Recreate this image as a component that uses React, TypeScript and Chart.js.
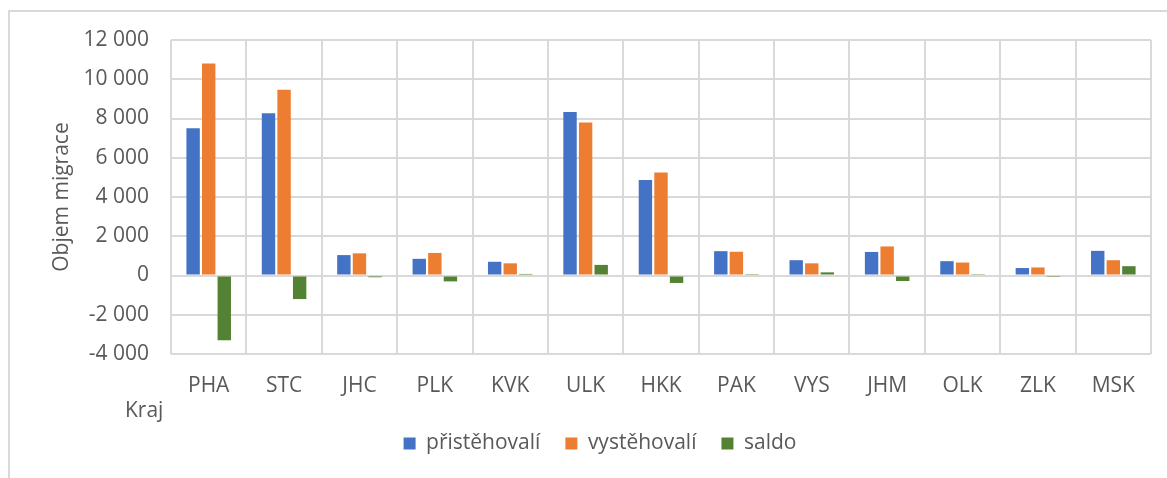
import React, { useEffect, useRef } from "react";
import { Chart, registerables } from "chart.js";

Chart.register(...registerables);

const categories = ["PHA", "STC", "JHC", "PLK", "KVK", "ULK", "HKK", "PAK", "VYS", "JHM", "OLK", "ZLK", "MSK"];
const pristehovali = [7500, 8270, 1040, 850, 700, 8330, 4870, 1240, 780, 1200, 730, 380, 1255];
const vystehovali = [10800, 9470, 1130, 1150, 620, 7790, 5250, 1210, 620, 1480, 660, 410, 780];
const saldo = [-3300, -1200, -90, -300, 80, 540, -380, 30, 160, -280, 70, -30, 475];
const seriesNames = ["přistěhovalí", "vystěhovalí", "saldo"];
const yTitle = "Objem migrace";
const xTitle = "Kraj";

const FONT = "'Open Sans', sans-serif";
const FS = 21;
const TEXT = "#595959";
const GRID = "#d9d9d9";

function fmt(v: number): string {
  const s = Math.abs(v).toString().replace(/\B(?=(\d{3})+(?!\d))/g, " ");
  return (v < 0 ? "-" : "") + s;
}

const krajPlugin = {
  id: "krajTitle",
  afterDraw(chart: any) {
    const { ctx, chartArea } = chart;
    ctx.save();
    ctx.font = `${FS}px ${FONT}`;
    ctx.fillStyle = TEXT;
    ctx.textAlign = "left";
    ctx.textBaseline = "middle";
    ctx.fillText(xTitle, chartArea.left - 46, chartArea.bottom + 57);
    ctx.restore();
  },
};

export default function App() {
  const ref = useRef<HTMLCanvasElement | null>(null);
  useEffect(() => {
    if (!ref.current) return;
    const chart = new Chart(ref.current, {
      type: "bar",
      data: {
        labels: categories,
        datasets: [
          { label: seriesNames[0], data: pristehovali, backgroundColor: "#4472C4" },
          { label: seriesNames[1], data: vystehovali, backgroundColor: "#ED7D31" },
          { label: seriesNames[2], data: saldo, backgroundColor: "#548235" },
        ],
      },
      options: {
        animation: false,
        responsive: false,
        maintainAspectRatio: false,
        layout: { padding: { top: 40, right: 16, left: 49, bottom: 14 } },
        datasets: { bar: { categoryPercentage: 0.62, barPercentage: 0.86 } },
        scales: {
          x: {
            offset: true,
            grid: { offset: true, color: GRID, lineWidth: 2, drawTicks: false },
            border: { display: false },
            ticks: { color: TEXT, font: { family: FONT, size: FS }, padding: 19, maxRotation: 0 },
            afterFit: (s: any) => { s.height = 54; },
          },
          y: {
            min: -4000,
            max: 12000,
            grid: { color: GRID, lineWidth: 2, drawTicks: false },
            border: { display: false },
            ticks: {
              stepSize: 2000,
              color: TEXT,
              font: { family: FONT, size: FS },
              padding: 22,
              callback: (v: any) => fmt(Number(v)),
            },
            title: { display: true, text: yTitle, color: TEXT, font: { family: FONT, size: FS }, padding: { top: 0, bottom: 0 } },
            afterFit: (s: any) => { s.width = 122; },
          },
        },
        plugins: {
          legend: {
            position: "bottom",
            labels: {
              color: TEXT,
              font: { family: FONT, size: FS },
              boxWidth: 12,
              boxHeight: 12,
              padding: 25,
            },
          },
          tooltip: { enabled: false },
        },
      },
      plugins: [krajPlugin],
    } as any);
    return () => chart.destroy();
  }, []);
  return (
    <div style={{ position: "fixed", left: 0, top: 0, width: 1167, height: 478, background: "#fff" }}>
      <div style={{ position: "absolute", left: 8, top: 10, width: 1200, height: 500, borderLeft: "2px solid #d9d9d9", borderTop: "2px solid #d9d9d9" }} />
      <canvas ref={ref} width={1167} height={478} style={{ position: "absolute", left: 0, top: 0 }} />
    </div>
  );
}
